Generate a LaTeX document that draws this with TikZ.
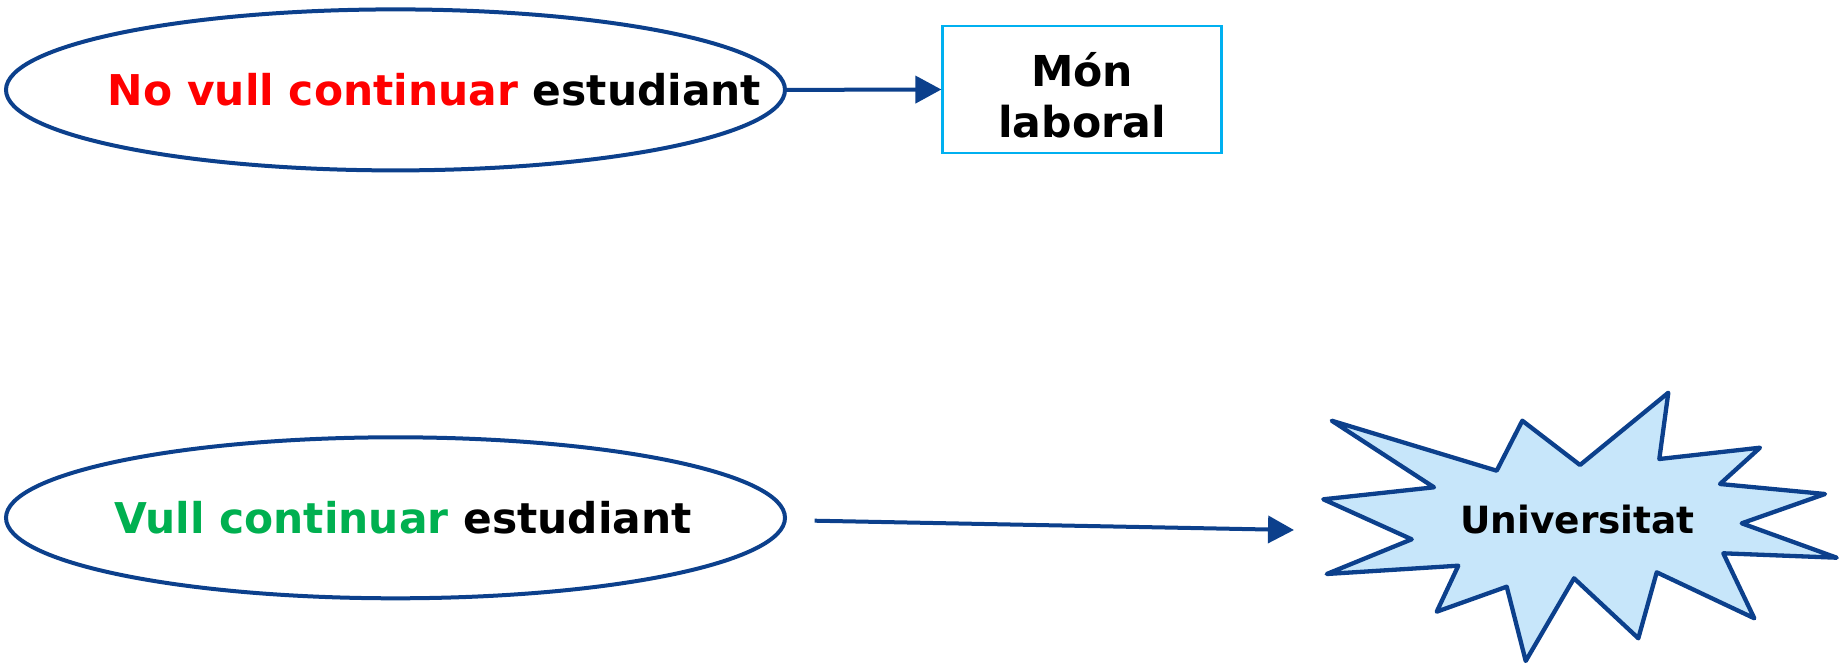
\documentclass[tikz,border=0pt]{standalone}
\usepackage{fontspec}
\setmainfont{DejaVu Sans}
\usetikzlibrary{shapes.geometric,arrows.meta}
\definecolor{dblue}{RGB}{12,64,140}
\definecolor{boxblue}{RGB}{0,176,240}
\definecolor{starfill}{RGB}{199,230,250}
\definecolor{myred}{RGB}{255,0,0}
\definecolor{mygreen}{RGB}{0,176,80}
\tikzset{
  oval/.style={ellipse,draw=dblue,line width=4pt,minimum width=779pt,minimum height=161pt,inner sep=0pt,font=\bfseries\fontsize{42.4}{49}\selectfont},
  arr/.style={draw=dblue,line width=4pt,-{Triangle[length=26pt,width=27pt]}},
  boxnode/.style={rectangle,draw=boxblue,line width=2.2pt,minimum width=279pt,minimum height=127pt},
  boxtext/.style={align=center,inner sep=0pt,font=\bfseries\fontsize{42.6}{51.5}\selectfont},
  starline/.style={draw=dblue,fill=starfill,line width=4.3pt,line join=round}
}
\begin{document}
\begin{tikzpicture}[x=1pt,y=-1pt]
\useasboundingbox (0,0) rectangle (1843,663);
\node[oval] (e1) at (395.5,89.9) {\makebox[0pt]{\hspace*{78pt}\textcolor{myred}{No vull continuar} estudiant}};
\node[oval] (e2) at (395.5,517.8) {\makebox[0pt]{\hspace*{15pt}\textcolor{mygreen}{Vull continuar} estudiant}};
\node[boxnode] (box) at (1082,89.5) {};
\node[boxtext] (boxtxt) at ([yshift=-6pt]box.center) {Món\\laboral};
\draw[arr] (e1.east) -- (box.west);
\coordinate (a2s) at (814.6,520.7);
\coordinate (a2e) at (1294,530);
\draw[arr] (a2s) -- (a2e);
\draw[starline] (1331.7,420.7) -- (1496.7,470.7) -- (1522.3,420.7) -- (1580,465) -- (1668.3,392.7) -- (1659.3,459) -- (1760,447.7) -- (1720,484) -- (1825,494) -- (1741.7,523.3) -- (1836.7,557.7) -- (1723.3,553.3) -- (1754.3,618.3) -- (1656.7,572.3) -- (1638.3,638.3) -- (1574,578.3) -- (1525.7,661) -- (1506.7,586.7) -- (1436.7,611.7) -- (1458.3,565.7) -- (1326.7,574) -- (1411.7,539.3) -- (1323.3,499.3) -- (1434,487.3) -- cycle;
\node[anchor=base,font=\bfseries\fontsize{37.5}{44}\selectfont] (univ) at (1577.5,533.3) {Universitat};
\end{tikzpicture}
\end{document}
